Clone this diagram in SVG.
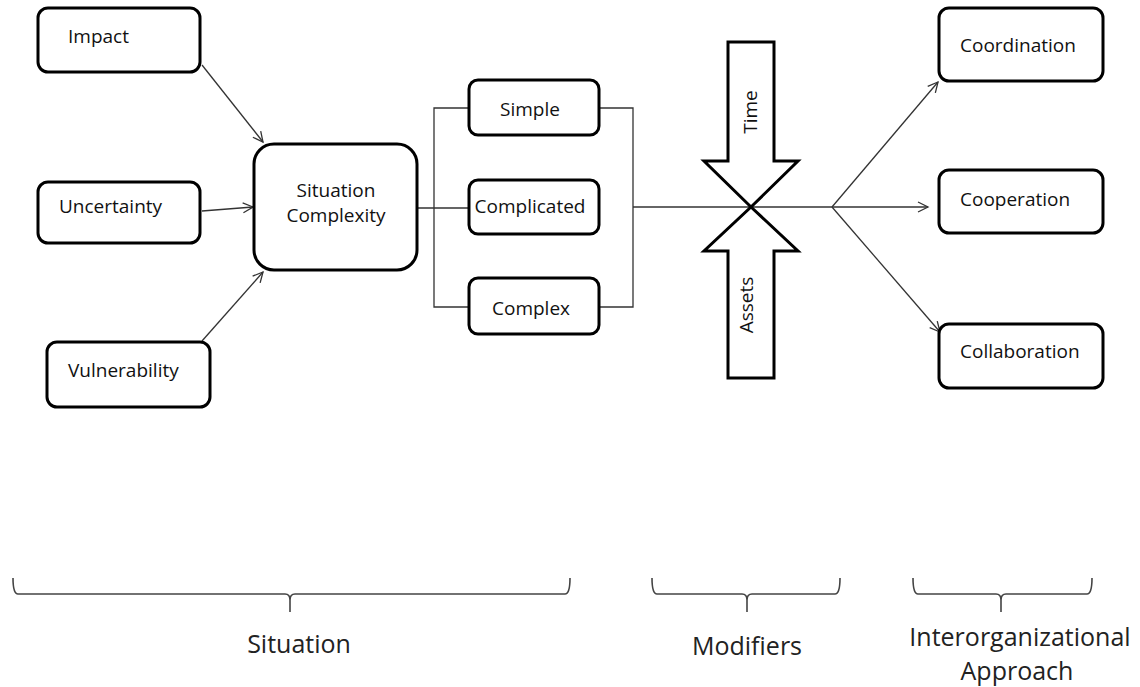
<svg xmlns="http://www.w3.org/2000/svg" width="1140" height="687" viewBox="0 0 1140 687">
<style>
  .box { fill: #fff; stroke: #000; stroke-width: 3; }
  .lbl { font-family: "Open Sans", "Liberation Sans", sans-serif; font-size: 19px; fill: #111; }
  .big { font-family: "Open Sans", "Liberation Sans", sans-serif; font-size: 25px; fill: #222; }
  .conn { fill: none; stroke: #333; stroke-width: 1.3; }
  .brace { fill: none; stroke: #444; stroke-width: 1.6; }
  .bigarrow { fill: #fff; stroke: #000; stroke-width: 3; stroke-linejoin: miter; }
</style>
<defs>
  <marker id="open" markerUnits="userSpaceOnUse" markerWidth="14" markerHeight="14" refX="11" refY="6" orient="auto">
    <path d="M1,1 L11,6 L1,11" fill="none" stroke="#333" stroke-width="1.3"/>
  </marker>
</defs>
<rect width="1140" height="687" fill="#fff"/>

<g id="connectors">
  <line class="conn" x1="202" y1="65" x2="263" y2="142" marker-end="url(#open)"/>
  <line class="conn" x1="202" y1="211" x2="253" y2="207" marker-end="url(#open)"/>
  <line class="conn" x1="202" y1="341" x2="263" y2="272" marker-end="url(#open)"/>
  <path class="conn" d="M417,208 H469 M469,108 H434 V307 H469"/>
  <path class="conn" d="M599,108 H633 V307 H599"/>
  <path class="conn" d="M633,207 H832"/>
  <line class="conn" x1="832" y1="207" x2="938" y2="82" marker-end="url(#open)"/>
  <line class="conn" x1="832" y1="207" x2="928" y2="207" marker-end="url(#open)"/>
  <line class="conn" x1="832" y1="207" x2="940" y2="332" marker-end="url(#open)"/>
</g>

<g id="impact">
  <rect class="box" x="38" y="8" width="162" height="64" rx="10"/>
  <text class="lbl" x="68" y="43">Impact</text>
</g>
<g id="uncertainty">
  <rect class="box" x="38" y="182" width="162" height="61" rx="10"/>
  <text class="lbl" x="59" y="213">Uncertainty</text>
</g>
<g id="vulnerability">
  <rect class="box" x="47" y="342" width="163" height="65" rx="10"/>
  <text class="lbl" x="68" y="377">Vulnerability</text>
</g>
<g id="situation-complexity">
  <rect class="box" x="254" y="144" width="163" height="126" rx="20"/>
  <text class="lbl" x="336" y="197" text-anchor="middle">Situation</text>
  <text class="lbl" x="336" y="222" text-anchor="middle">Complexity</text>
</g>
<g id="simple">
  <rect class="box" x="469" y="80" width="130" height="55" rx="9"/>
  <text class="lbl" x="530" y="116" text-anchor="middle">Simple</text>
</g>
<g id="complicated">
  <rect class="box" x="469" y="180" width="130" height="54" rx="9"/>
  <text class="lbl" x="530" y="213" text-anchor="middle">Complicated</text>
</g>
<g id="complex">
  <rect class="box" x="469" y="278" width="130" height="56" rx="9"/>
  <text class="lbl" x="531" y="315" text-anchor="middle">Complex</text>
</g>

<g id="time">
  <polygon class="bigarrow" points="728,42 774,42 774,161 798,161 751,207 704,161 728,161"/>
  <text class="lbl" transform="translate(757,112) rotate(-90)" text-anchor="middle">Time</text>
</g>
<g id="assets">
  <polygon class="bigarrow" points="751,207 798,251 774,251 774,378 728,378 728,251 704,251"/>
  <text class="lbl" transform="translate(753,305) rotate(-90)" text-anchor="middle">Assets</text>
</g>

<g id="coordination">
  <rect class="box" x="939" y="8" width="164" height="73" rx="10"/>
  <text class="lbl" x="960" y="52">Coordination</text>
</g>
<g id="cooperation">
  <rect class="box" x="939" y="170" width="164" height="63" rx="10"/>
  <text class="lbl" x="960" y="206">Cooperation</text>
</g>
<g id="collaboration">
  <rect class="box" x="939" y="324" width="164" height="64" rx="10"/>
  <text class="lbl" x="960" y="358">Collaboration</text>
</g>

<g id="braces">
  <path class="brace" d="M13,578 Q13,594 18,594 H285 Q290,594 290,600 V612 M290,600 Q290,594 295,594 H565 Q570,594 570,578"/>
  <path class="brace" d="M652,578 Q652,594 657,594 H742 Q747,594 747,600 V612 M747,600 Q747,594 752,594 H835 Q840,594 840,578"/>
  <path class="brace" d="M913,578 Q913,594 918,594 H996 Q1001,594 1001,600 V612 M1001,600 Q1001,594 1006,594 H1087 Q1092,594 1092,578"/>
</g>

<g id="labels">
  <text class="big" x="299" y="653" text-anchor="middle">Situation</text>
  <text class="big" x="747" y="655" text-anchor="middle">Modifiers</text>
  <text class="big" x="1020" y="646" text-anchor="middle">Interorganizational</text>
  <text class="big" x="1017" y="680" text-anchor="middle">Approach</text>
</g>
</svg>
